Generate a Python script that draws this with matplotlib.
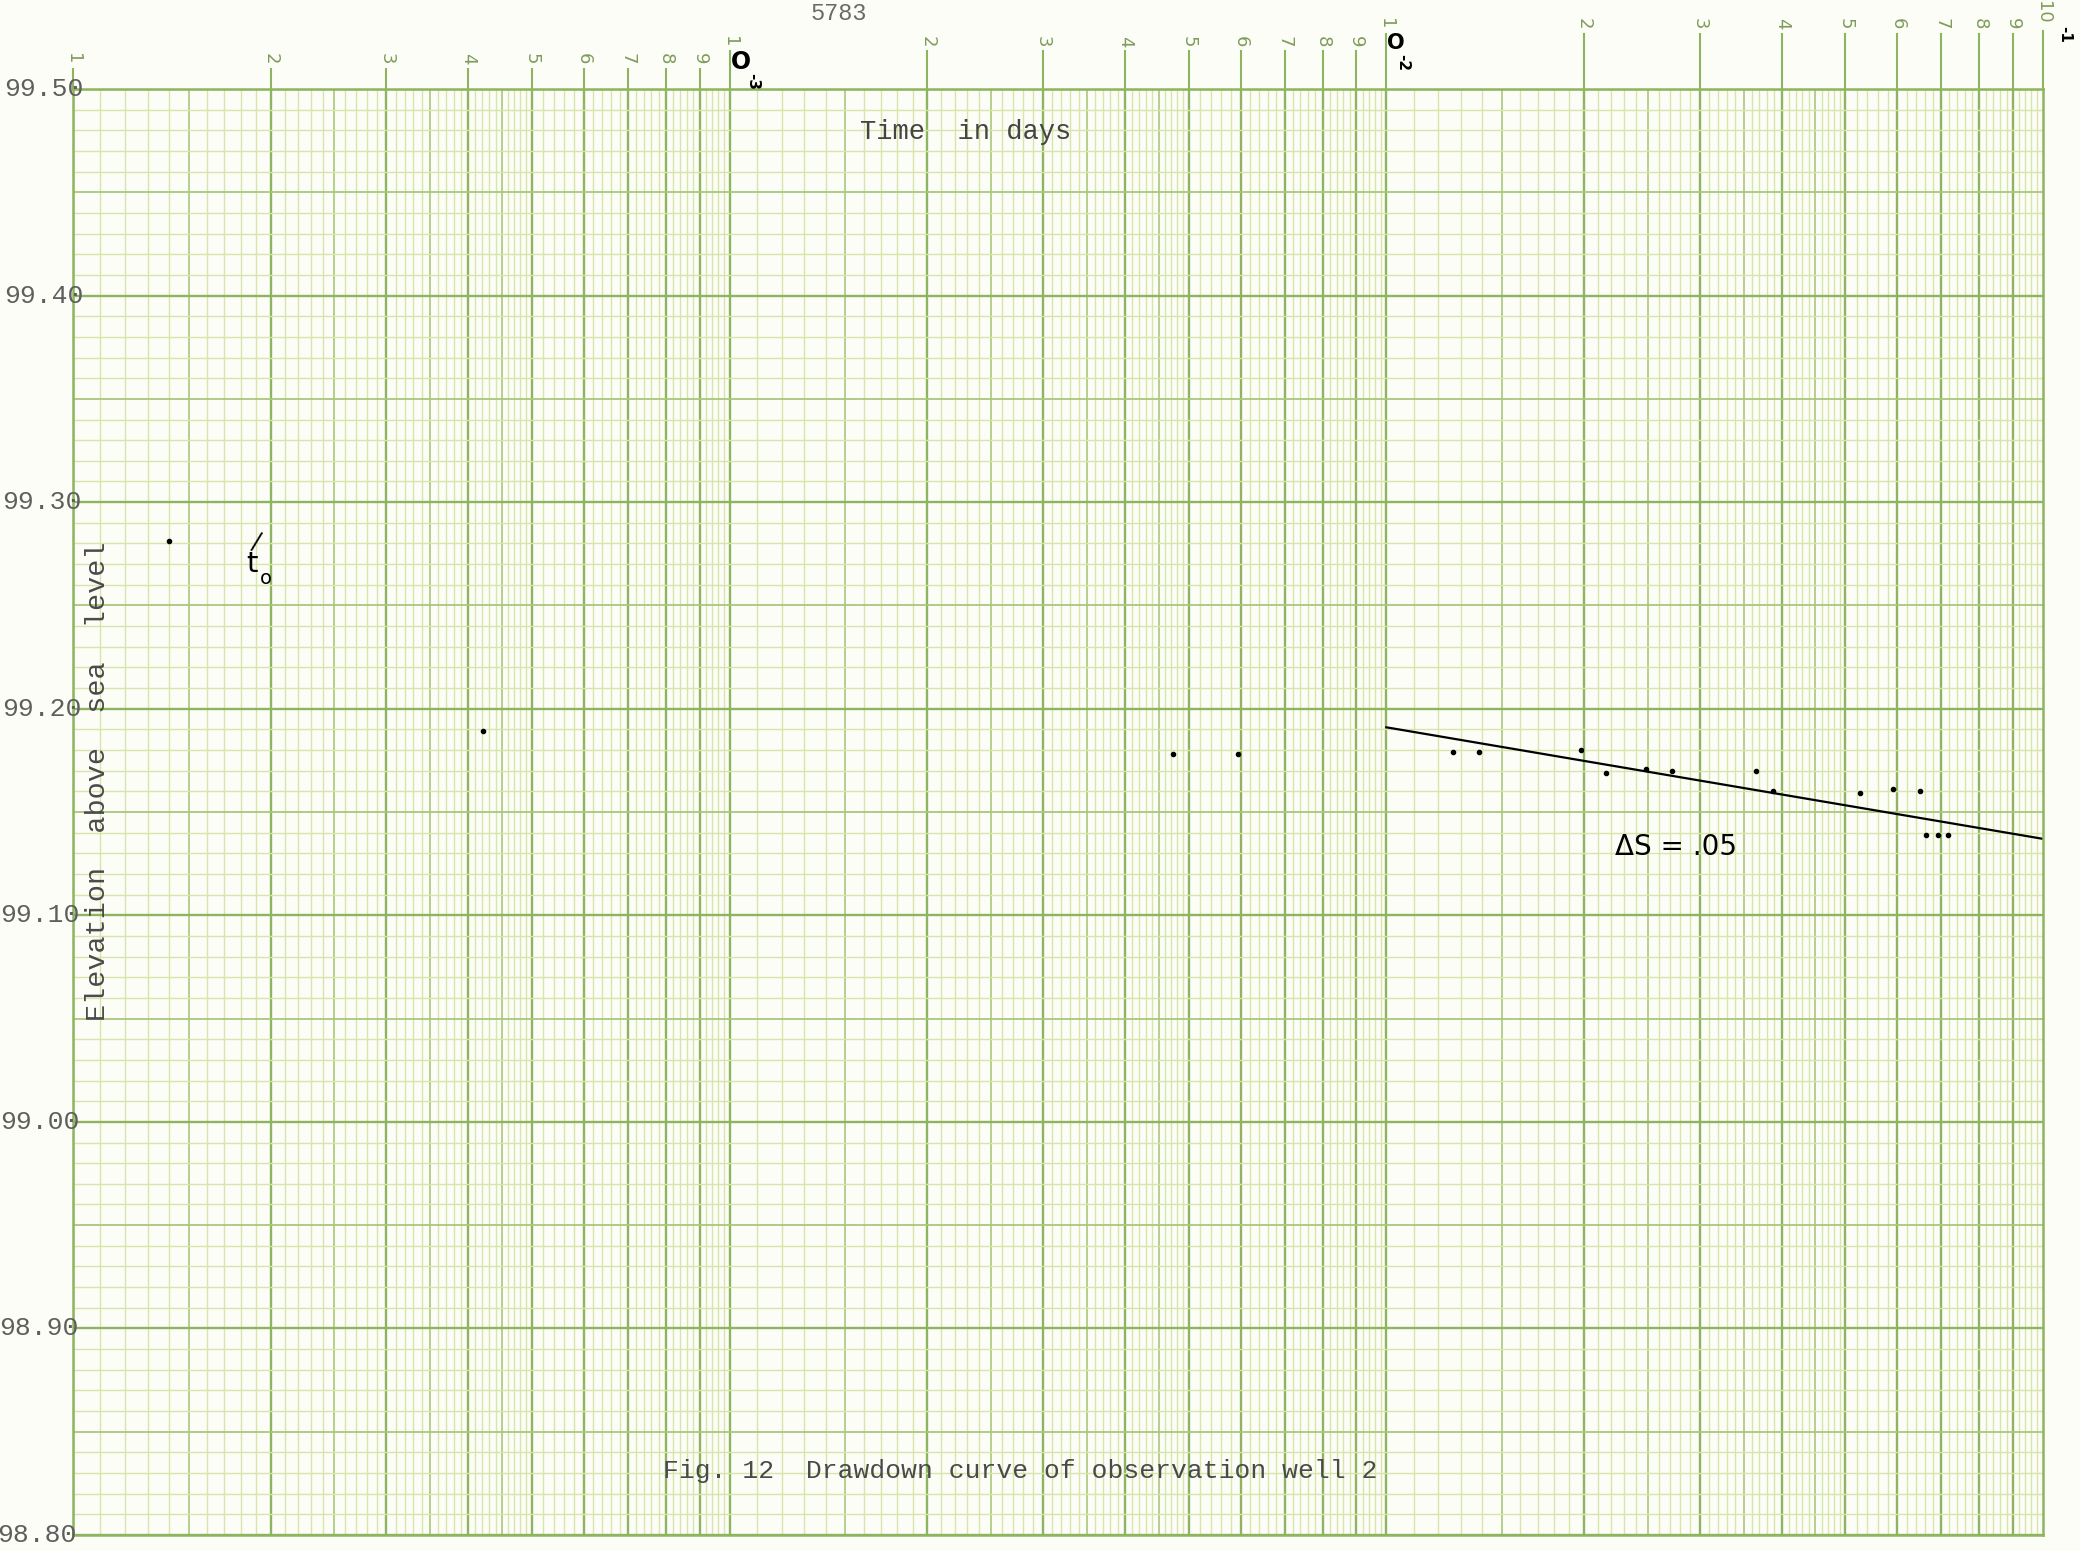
import numpy as np
import matplotlib.pyplot as plt
from matplotlib.transforms import blended_transform_factory

# drawdown readings, observation well 2 (time in days, elevation in ft)
early_t = [1.40e-4, 4.21e-4, 4.73e-3, 5.94e-3]
early_h = [99.281, 99.189, 99.178, 99.178]
late_t = [0.01262, 0.01383, 0.01979, 0.02164, 0.02489, 0.02727, 0.03658,
          0.03882, 0.05264, 0.05918, 0.06504, 0.06629, 0.06926, 0.07172]
late_h = [99.179, 99.179, 99.180, 99.169, 99.171, 99.170, 99.170,
          99.160, 99.159, 99.161, 99.160, 99.139, 99.139, 99.139]
# fitted straight line through the late data
fit_t = [0.01, 0.1]
fit_h = [99.191, 99.137]

y_labels = ["99.50", "99.40", "99.30", "99.20", "99.10", "99.00", "98.90", "98.80"]
y_values = [99.50, 99.40, 99.30, 99.20, 99.10, 99.00, 98.90, 98.80]
decades = [1e-4, 1e-3, 1e-2]
cycle_digits = ["1", "2", "3", "4", "5", "6", "7", "8", "9"]

PAPER = "#fdfdf8"
HEAVY = "#8fb460"
MEDIUM = "#a9c77c"
LIGHT = "#d6e6aa"
TYPE = "Liberation Mono"

fig = plt.figure(figsize=(20.8, 15.51), dpi=100, facecolor=PAPER)
ax = fig.add_axes([73 / 2080, 16 / 1551, 1970 / 2080, 1446 / 1551])
ax.set_facecolor(PAPER)
ax.set_xscale("log")
ax.set_xlim(1e-4, 1e-1)
ax.set_ylim(98.80, 99.50)
ax.set_xticks([])
ax.set_yticks([])
ax.minorticks_off()
for s in ax.spines.values():
    s.set_color(HEAVY)
    s.set_linewidth(1.8)

# semi-log graph paper: tenths up to 5, fifths from 5 to 10
light_x, med_x, heavy_x = [], [], []
for d in decades:
    for k in range(10, 100):
        v = d * k / 10
        if k % 10 == 0:
            heavy_x.append(v)
        elif k < 50 and k % 5 == 0:
            med_x.append(v)
        elif k < 50 or k % 2 == 0:
            light_x.append(v)
ax.vlines(light_x, 98.8, 99.5, color=LIGHT, lw=1.0, zorder=0)
ax.vlines(med_x, 98.8, 99.5, color=MEDIUM, lw=1.2, zorder=0)
ax.vlines(heavy_x, 98.8, 99.5, color=HEAVY, lw=1.7, zorder=0)

hy = np.round(np.arange(98.80, 99.505, 0.01), 2)
ax.hlines([v for v in hy if round(v * 100) % 5 != 0], 1e-4, 1e-1, color=LIGHT, lw=1.0, zorder=0)
ax.hlines([v for v in hy if round(v * 100) % 10 == 5], 1e-4, 1e-1, color=MEDIUM, lw=1.3, zorder=0)
ax.hlines([v for v in hy if round(v * 100) % 10 == 0], 1e-4, 1e-1, color=HEAVY, lw=1.7, zorder=0)

# printed cycle numbers along the top
xtop = blended_transform_factory(ax.transData, ax.transAxes)
label_rise = [0.021, 0.033, 0.045]
for d, rise in zip(decades, label_rise):
    for i, dg in enumerate(cycle_digits):
        xv = d * (i + 1)
        ax.plot([xv, xv], [1.0, 1.0 + rise - 0.007], color=HEAVY, lw=1.5,
                transform=xtop, clip_on=False)
        ax.text(xv, 1.0 + rise, dg, rotation=270, ha="center", va="center",
                fontsize=13, color="#7f9c5a", family="DejaVu Sans",
                transform=xtop, clip_on=False)
ax.plot([1e-1, 1e-1], [1.0, 1.04], color=HEAVY, lw=1.5, transform=xtop, clip_on=False)
ax.text(1e-1, 1.053, "10", rotation=270, ha="center", va="center", fontsize=13,
        color="#7f9c5a", family="DejaVu Sans", transform=xtop, clip_on=False)

# handwritten exponents
hand = dict(color="black", family="DejaVu Sans", fontweight="bold", clip_on=False, transform=xtop)
ax.text(1.04e-3, 1.019, "O", fontsize=17, ha="center", va="center", **hand)
ax.text(1.085e-3, 1.005, "-3", fontsize=11, rotation=270, ha="center", va="center", **hand)
ax.text(1.035e-2, 1.032, "O", fontsize=15, ha="center", va="center", **hand)
ax.text(1.06e-2, 1.018, "-2", fontsize=11, rotation=270, ha="center", va="center", **hand)
ax.text(1.08e-1, 1.038, "-1", fontsize=11, rotation=270, ha="center", va="center", **hand)

# elevation labels, typed over the left edge
ytr = blended_transform_factory(ax.transAxes, ax.transData)
for lab, v in zip(y_labels, y_values):
    shift = (11 - 7 * (99.5 - v) / 0.7) / 1970
    ax.text(shift, v, lab, ha="right", va="center", fontsize=19, color="#5e5e5e",
            family=TYPE, transform=ytr, clip_on=False)

ax.text(2.29e-3, 99.479, "Time  in days", ha="center", va="center", fontsize=19.5,
        color="#444444", family=TYPE)
ax.text(1.09e-4, 99.165, "Elevation  above  sea  level", rotation=90, ha="center",
        va="center", fontsize=20.5, color="#4a4a4a", family=TYPE)
ax.text(2.77e-3, 98.831, "Fig. 12  Drawdown curve of observation well 2", ha="center",
        va="center", fontsize=19, color="#4a4a4a", family=TYPE)
fig.text(839 / 2080, 1 - 13 / 1551, "5783", ha="center", va="center", fontsize=17,
         color="#6a6a6a", family=TYPE)

# t0 mark
ax.text(1.874e-4, 99.270, "t", fontsize=21, ha="center", va="center", color="black",
        family="DejaVu Sans")
ax.text(1.965e-4, 99.263, "o", fontsize=14, ha="center", va="center", color="black",
        family="DejaVu Sans")
ax.text(1.90e-4, 99.281, "/", fontsize=17, ha="center", va="center", color="black",
        family="DejaVu Sans", rotation=-15)

# data
ax.plot(early_t, early_h, "o", color="black", ms=3, zorder=3)
ax.plot(late_t, late_h, "o", color="black", ms=3, zorder=3)
ax.plot(fit_t, fit_h, color="black", lw=1.6, zorder=2)
ax.text(2.76e-2, 99.133, "ΔS = .05", fontsize=20, ha="center", va="center",
        color="black", family="DejaVu Sans")

fig.savefig("out.png", dpi=100, facecolor=PAPER)
